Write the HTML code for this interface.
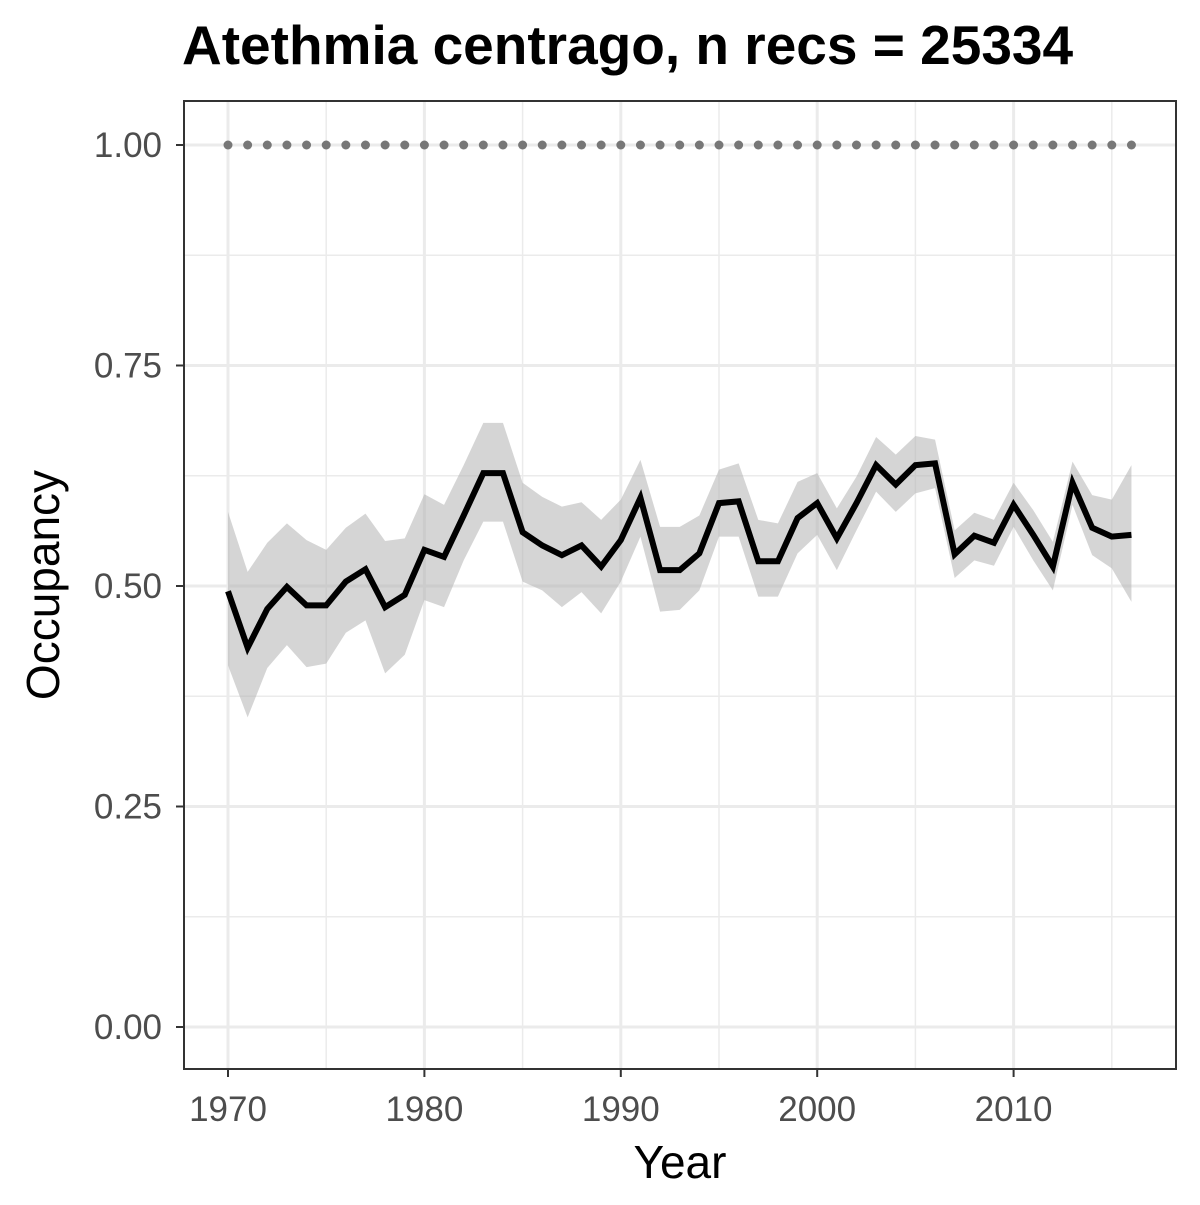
<!DOCTYPE html>
<html><head><meta charset="utf-8"><style>
body{margin:0;background:#fff}
svg text{font-family:"Liberation Sans",Arial,sans-serif}
</style></head><body>
<svg id="chart" width="1200" height="1200" viewBox="0 0 1200 1200" xmlns="http://www.w3.org/2000/svg">
<rect width="1200" height="1200" fill="#fff"/>
<text x="182" y="64" font-size="55" font-weight="bold" fill="#000">Atethmia centrago, n recs = 25334</text>
<g id="grid"></g>
<g id="marks"></g>
<rect x="184" y="101" width="992" height="968" fill="none" stroke="#333" stroke-width="2"/>
<g id="axes"></g>
<text x="680" y="1178" font-size="46" text-anchor="middle" fill="#000">Year</text>
<text transform="translate(59,585) rotate(-90)" font-size="46" text-anchor="middle" fill="#000">Occupancy</text>
</svg>
<script>
const years=[];for(let y=1970;y<=2016;y++)years.push(y);
const meanVals=[0.494,0.430,0.474,0.499,0.478,0.478,0.505,0.519,0.476,0.490,0.541,0.533,0.580,0.628,0.628,0.561,0.546,0.535,0.546,0.522,0.552,0.600,0.518,0.518,0.537,0.594,0.596,0.528,0.528,0.577,0.594,0.554,0.594,0.637,0.615,0.637,0.639,0.536,0.557,0.549,0.592,0.558,0.522,0.617,0.566,0.556,0.558];
const upperVals=[0.584,0.516,0.549,0.571,0.552,0.541,0.566,0.582,0.551,0.554,0.604,0.592,0.637,0.685,0.685,0.617,0.601,0.590,0.595,0.575,0.598,0.643,0.567,0.567,0.580,0.632,0.639,0.575,0.571,0.618,0.628,0.588,0.624,0.669,0.649,0.670,0.666,0.563,0.583,0.575,0.617,0.586,0.550,0.641,0.603,0.598,0.637];
const lowerVals=[0.410,0.351,0.407,0.433,0.408,0.412,0.447,0.461,0.401,0.422,0.484,0.476,0.529,0.573,0.573,0.505,0.495,0.476,0.493,0.469,0.505,0.556,0.471,0.473,0.495,0.556,0.556,0.488,0.488,0.537,0.558,0.518,0.563,0.607,0.584,0.605,0.611,0.509,0.529,0.523,0.567,0.529,0.495,0.592,0.535,0.520,0.482];
const refVals=years.map(()=>1);
const yTicks=[0,0.25,0.5,0.75,1];
const yTickLabels=["0.00","0.25","0.50","0.75","1.00"];
const xTicks=[1970,1980,1990,2000,2010];
const xTickLabels=["1970","1980","1990","2000","2010"];
const xMinor=[1975,1985,1995,2005,2015];
const yMinor=[0.125,0.375,0.625,0.875];

const NS="http://www.w3.org/2000/svg";
const X=v=>228+(v-1970)*19.64;
const Y=v=>1027-v*882;
function mk(tag,attrs,parent){const e=document.createElementNS(NS,tag);for(const k in attrs)e.setAttribute(k,attrs[k]);document.getElementById(parent).appendChild(e);return e;}

yMinor.forEach(v=>{const e=mk('line',{x1:184,x2:1176,y1:Y(v),y2:Y(v),stroke:'#ebebeb','stroke-width':1.5},'grid');

});
xMinor.forEach(v=>{const e=mk('line',{x1:X(v),x2:X(v),y1:101,y2:1069,stroke:'#ebebeb','stroke-width':1.5},'grid');

});
yTicks.forEach(v=>{const e=mk('line',{x1:184,x2:1176,y1:Y(v),y2:Y(v),stroke:'#ebebeb','stroke-width':3},'grid');

});
xTicks.forEach(v=>{const e=mk('line',{x1:X(v),x2:X(v),y1:101,y2:1069,stroke:'#ebebeb','stroke-width':3},'grid');

});

let pts=years.map((y,i)=>X(y)+','+Y(upperVals[i]));
for(let i=years.length-1;i>=0;i--)pts.push(X(years[i])+','+Y(lowerVals[i]));
const rib=mk('polygon',{points:pts.join(' '),fill:'#b3b3b3','fill-opacity':0.55},'marks');


const ln=mk('polyline',{points:years.map((y,i)=>X(y)+','+Y(meanVals[i])).join(' '),fill:'none',stroke:'#000','stroke-width':6,'stroke-linejoin':'miter'},'marks');


years.forEach((y,i)=>{const c=mk('circle',{cx:X(y),cy:Y(refVals[i]),r:4.5,fill:'#777'},'marks');

});

yTicks.forEach((v,i)=>{const t=mk('line',{x1:176,x2:184,y1:Y(v),y2:Y(v),stroke:'#333','stroke-width':2},'axes');


const l=mk('text',{x:162,y:Y(v)+12,'font-size':35,'text-anchor':'end',fill:'#4d4d4d'},'axes');l.textContent=yTickLabels[i];

});
xTicks.forEach((v,i)=>{const t=mk('line',{x1:X(v),x2:X(v),y1:1069,y2:1077,stroke:'#333','stroke-width':2},'axes');


const l=mk('text',{x:X(v),y:1121,'font-size':35,'text-anchor':'middle',fill:'#4d4d4d'},'axes');l.textContent=xTickLabels[i];

});
</script>
</body></html>
